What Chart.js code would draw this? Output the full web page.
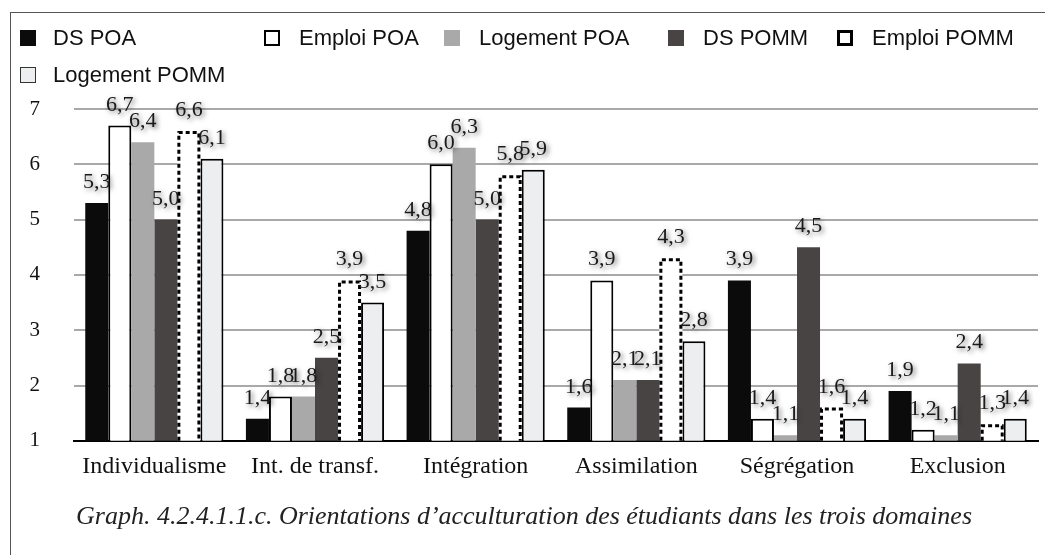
<!DOCTYPE html>
<html>
<head>
<meta charset="utf-8">
<script src="https://cdn.jsdelivr.net/npm/chart.js@4"></script>
<style>
	body { margin: 0; background: #fff; }
	#wrap { position: relative; width: 1045px; height: 555px; }
	#frame { position: absolute; left: 10px; top: 12px; right: -2px; bottom: -2px; border-left: 1.5px solid #555; border-top: 1.5px solid #555; }
	.leg { position: absolute; font-family: 'Liberation Sans', Arial, sans-serif; font-size: 22px; color: #111; white-space: nowrap; line-height: 26px; }
	.leg span.box { position: absolute; left: 0; top: 5px; width: 16px; height: 16px; box-sizing: border-box; }
	.leg span.txt { position: absolute; top: 0; }
</style>
</head>
<body>
<div id="wrap">
	<div id="frame"></div>
	<canvas id="chart"></canvas>
	<div id="legend"></div>
</div>
<script>
const categories = ['Individualisme', 'Int. de transf.', 'Intégration', 'Assimilation', 'Ségrégation', 'Exclusion'];
const seriesNames = ['DS POA', 'Emploi POA', 'Logement POA', 'DS POMM', 'Emploi POMM', 'Logement POMM'];
const dsPoa = [5.3, 1.4, 4.8, 1.6, 3.9, 1.9];
const emploiPoa = [6.7, 1.8, 6.0, 3.9, 1.4, 1.2];
const logementPoa = [6.4, 1.8, 6.3, 2.1, 1.1, 1.1];
const dsPomm = [5.0, 2.5, 5.0, 2.1, 4.5, 2.4];
const emploiPomm = [6.6, 3.9, 5.8, 4.3, 1.6, 1.3];
const logementPomm = [6.1, 3.5, 5.9, 2.8, 1.4, 1.4];
const yMin = 1, yMax = 7, yStep = 1;
const caption = 'Graph. 4.2.4.1.1.c. Orientations d\u2019acculturation des étudiants dans les trois domaines';

const seriesValues = [dsPoa, emploiPoa, logementPoa, dsPomm, emploiPomm, logementPomm];
const fills = ['#0b0b0b', '#ffffff', '#a9a9a9', '#484444', '#ffffff', '#edeef0'];
const borders = [0, 2, 0, 0, 0, 2];

// legend layout (rows and left edges, like the original)
const legendPos = [[20, 25], [264, 25], [444, 25], [668, 25], [837, 25], [20, 62]];
const legendBox = [
	'background:#0b0b0b',
	'background:#fff;border:2.5px solid #000',
	'background:#a9a9a9',
	'background:#484444',
	'background:#fff;border:3.5px solid #000',
	'background:#edeef0;border:1px solid #333'
];

let legend = document.getElementById('legend');
seriesNames.forEach(function(name, i) {
	let item = document.createElement('div');
	item.className = 'leg';
	item.style.left = legendPos[i][0] + 'px';
	item.style.top = legendPos[i][1] + 'px';
	item.innerHTML = '<span class="box" style="' + legendBox[i] + '"></span><span class="txt" style="left:' + (i == 0 || i == 5 ? 33 : 35) + 'px">' + name + '</span>';
	legend.appendChild(item);
});

// dashed outline for Emploi POMM (bar element cannot dash its border)
const dashedBars = {
	id: 'dashedBars',
	afterDatasetsDraw(chart) {
		let ctx = chart.ctx;
		let meta = chart.getDatasetMeta(4);
		let bottom = chart.chartArea.bottom;
		ctx.save();
		ctx.strokeStyle = '#000';
		ctx.lineWidth = 3;
		ctx.setLineDash([4, 3]);
		meta.data.forEach(function(el) {
			let p = el.getProps(['x', 'y', 'width', 'base'], true);
			let b = Math.min(p.base, bottom);
			let l = p.x - p.width / 2 + 1.5;
			let r = p.x + p.width / 2 - 1.5;
			let t = p.y + 1.5;
			ctx.beginPath();
			ctx.moveTo(l, b);
			ctx.lineTo(l, t);
			ctx.lineTo(r, t);
			ctx.lineTo(r, b);
			ctx.stroke();
		});
		ctx.restore();
	}
};

// value labels with the soft shadow of the original
const valueLabels = {
	id: 'valueLabels',
	afterDatasetsDraw(chart) {
		let ctx = chart.ctx;
		ctx.save();
		ctx.font = '22px "Liberation Serif", "Times New Roman", serif';
		ctx.textAlign = 'center';
		ctx.textBaseline = 'alphabetic';
		ctx.fillStyle = '#1a1a1a';
		ctx.shadowColor = 'rgba(0,0,0,0.6)';
		ctx.shadowBlur = 5;
		ctx.shadowOffsetX = 2;
		ctx.shadowOffsetY = 2;
		chart.data.datasets.forEach(function(ds, i) {
			chart.getDatasetMeta(i).data.forEach(function(el, j) {
				let txt = ds.data[j].toFixed(1).replace('.', ',');
				ctx.fillText(txt, el.x, el.y - 15);
			});
		});
		ctx.restore();
	}
};

new Chart(document.getElementById('chart').getContext('2d'), {
	type: 'bar',
	data: {
		labels: categories,
		datasets: seriesNames.map(function(name, i) {
			return {
				label: name,
				data: seriesValues[i],
				backgroundColor: fills[i],
				borderColor: '#000',
				borderWidth: borders[i],
				borderSkipped: 'start',
				categoryPercentage: 0.86,
				barPercentage: 1.0
			};
		})
	},
	options: {
		responsive: true,
		maintainAspectRatio: false,
		animation: false,
		layout: { padding: { left: 10, right: 7, top: 109, bottom: 14 } },
		plugins: {
			legend: { display: false },
			tooltip: { enabled: false },
			title: {
				display: true,
				position: 'bottom',
				text: caption,
				color: '#222',
				font: { family: '"Liberation Serif", "Times New Roman", serif', style: 'italic', weight: 'normal', size: 26 },
				padding: { top: 11, bottom: 8 }
			}
		},
		scales: {
			x: {
				grid: { display: false, drawTicks: false },
				border: { display: true, color: '#000', width: 2 },
				ticks: { padding: 12, color: '#111', font: { family: '"Liberation Serif", "Times New Roman", serif', size: 24 } },
				afterFit(s) { s.height = 50; }
			},
			y: {
				min: yMin,
				max: yMax,
				ticks: { stepSize: yStep, padding: 34, color: '#111', font: { family: '"Liberation Serif", "Times New Roman", serif', size: 21 } },
				grid: { color: '#a9a9a9', lineWidth: 2, drawTicks: false },
				border: { display: false },
				afterFit(s) { s.width = 64; }
			}
		}
	},
	plugins: [dashedBars, valueLabels]
});
</script>
</body>
</html>
